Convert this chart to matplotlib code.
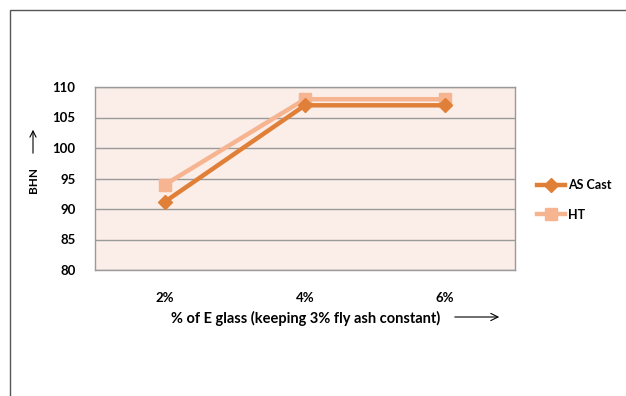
import matplotlib.pyplot as plt
from matplotlib.patches import Rectangle, FancyArrowPatch

categories = ["2%", "4%", "6%"]
as_cast = [91.2, 107.0, 107.0]
ht = [94.0, 108.0, 108.0]
y_ticks = [80, 85, 90, 95, 100, 105, 110]

plt.rcParams['font.family'] = ['Lato', 'DejaVu Sans']

W, H = 626, 396
fig = plt.figure(figsize=(W / 100, H / 100), dpi=100)
fig.patch.set_facecolor('white')

# outer chart frame
fig.patches.append(Rectangle((10 / W, -0.1), 1.2, (H - 10) / H + 0.1,
                             transform=fig.transFigure, fill=False,
                             edgecolor='#555555', linewidth=1.0))

ax = fig.add_axes([95 / W, (H - 270) / H, 420 / W, 183 / H])
ax.set_facecolor('#FBEDE8')

x = list(range(len(categories)))
ax.plot(x, as_cast, color='#E07F37', linewidth=3.2, marker='D', markersize=7,
        label='AS Cast', zorder=4)
ax.plot(x, ht, color='#F7B490', linewidth=3.2, marker='s', markersize=9,
        label='HT', zorder=3)

ax.set_xlim(-0.5, len(categories) - 0.5)
ax.set_ylim(80, 110)
ax.set_yticks(y_ticks)
ax.set_yticklabels([str(v) for v in y_ticks], fontsize=9.5, fontweight='bold')
ax.set_xticks(x)
ax.set_xticklabels(categories, fontsize=9.5, fontweight='bold')
ax.tick_params(axis='both', length=0)
ax.tick_params(axis='y', pad=14)
ax.tick_params(axis='x', pad=16)
ax.grid(axis='y', color='#9A9A9A', linewidth=1.0)
ax.set_axisbelow(True)
for side, sp in ax.spines.items():
    sp.set_color('#9A9A9A')
    sp.set_linewidth(1.0)

# axis titles with direction arrows
fig.text(33 / W, 1 - 180 / H, 'BHN', rotation=90, ha='center', va='center',
         fontsize=8.5, fontweight='bold')
fig.patches.append(FancyArrowPatch(
    (33 / W, 1 - 156 / H), (33 / W, 1 - 127 / H), transform=fig.transFigure,
    arrowstyle='->', mutation_scale=11, color='black', linewidth=0.8))

fig.text(306 / W, 1 - 318 / H, '% of E glass (keeping 3% fly ash constant)',
         ha='center', va='center', fontsize=10.5, fontweight='bold')
fig.patches.append(FancyArrowPatch(
    (452 / W, 1 - 317 / H), (502 / W, 1 - 317 / H), transform=fig.transFigure,
    arrowstyle='->', mutation_scale=13, color='black', linewidth=0.8))

ax.legend(loc='center left', bbox_to_anchor=(532 / W, 1 - 200 / H),
          bbox_transform=fig.transFigure, frameon=False,
          prop={'weight': 'bold', 'size': 9}, handlelength=2.2,
          labelspacing=1.4, handletextpad=0.3, borderaxespad=0)

fig.savefig('out.png', dpi=100)
